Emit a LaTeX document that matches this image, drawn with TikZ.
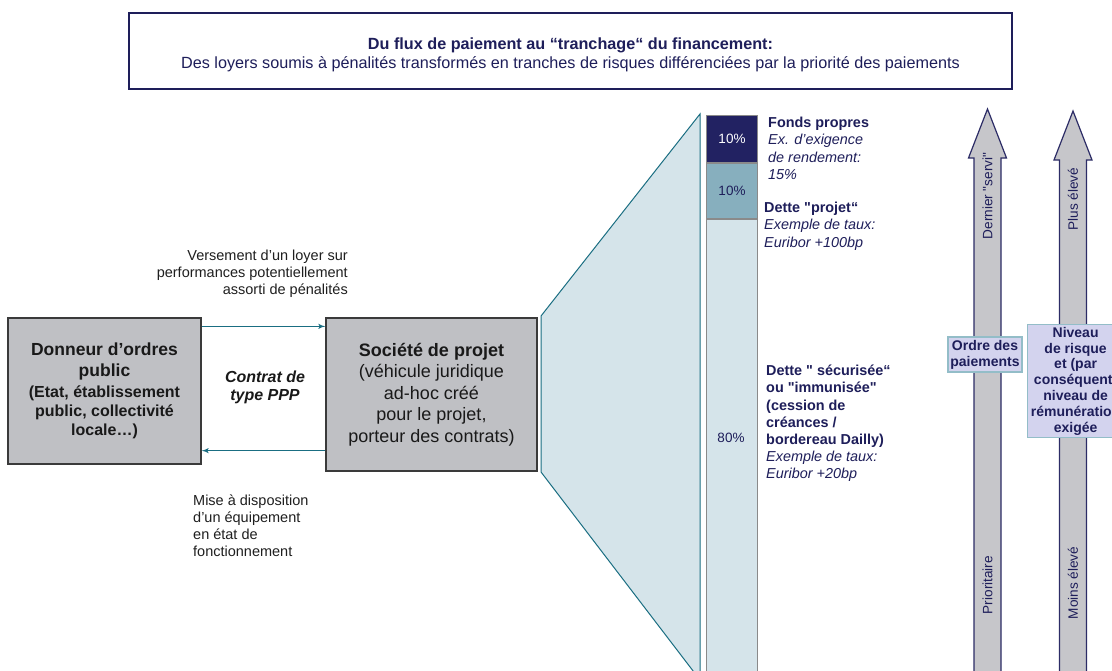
\documentclass[tikz,border=0pt]{standalone}
\usepackage{fontspec}
\setmainfont{Liberation Sans}[Ligatures=TeXOff]
\usetikzlibrary{arrows,positioning}
\definecolor{navy}{HTML}{1E1E5A}
\definecolor{flowteal}{HTML}{1A6E82}
\definecolor{lightblue}{HTML}{D5E4EA}
\definecolor{midteal}{HTML}{87AFBE}
\definecolor{darknavy}{HTML}{222262}
\definecolor{bargray}{HTML}{8A8A8A}
\definecolor{boxgray}{HTML}{BFC0C4}
\definecolor{boxedge}{HTML}{3A3A3A}
\definecolor{arrowgray}{HTML}{C6C6CA}
\definecolor{arrownavy}{HTML}{2C2C66}
\definecolor{lavender}{HTML}{D3D3EE}
\definecolor{legendedge}{HTML}{93BDC8}
\tikzset{every node/.append style={inner sep=0pt}}
\tikzset{
  gray box/.style={draw=boxedge, line width=1.3pt, fill=boxgray, align=center, text=black!90},
  flow/.style={draw=flowteal, line width=1.4pt, -latex'},
  note/.style={font=\fontsize{14.5}{17}\selectfont, text=black!88},
  tranche/.style={draw=bargray, line width=1pt, minimum width=51pt, font=\fontsize{13.5}{16}\selectfont},
  tranche text/.style={anchor=north west, align=left, text=navy, font=\fontsize{14.4}{17.2}\selectfont},
  big arrow/.style={draw=arrownavy, line width=1.2pt, fill=arrowgray},
  axis text/.style={rotate=90, text=navy, font=\fontsize{13.6}{16}\selectfont},
  legend box/.style={draw=legendedge, line width=1.2pt, fill=lavender, text=navy, align=center, font=\bfseries\fontsize{14}{15.8}\selectfont}
}

\begin{document}
\begin{tikzpicture}[x=1pt,y=-1pt]
  \path[use as bounding box, clip] (0,0) rectangle (1112,670);
  \fill[white] (0,0) rectangle (1112,670);

  % titre
  \node[draw=navy, line width=1.6pt, minimum width=883pt, minimum height=76pt] (titre) at (570.5,51) {};
  \node[align=center, text=navy, font=\fontsize{16.2}{19}\selectfont, yshift=-3.5pt] (titretxt) at (titre.center)
    {\textbf{Du flux de paiement au “tranchage“ du financement:}\\
     Des loyers soumis à pénalités transformés en tranches de risques différenciées par la priorité des paiements};

  % contrat PPP
  \node[gray box, minimum width=193pt, minimum height=146pt, font=\bfseries\fontsize{17.5}{21}\selectfont] (donneur) at (104.5,391)
    {Donneur d’ordres\\ public\\ {\fontsize{16}{19}\selectfont (Etat, établissement}\\[-2pt]
     {\fontsize{16}{19}\selectfont public, collectivité}\\[-2pt] {\fontsize{16}{19}\selectfont locale…)}};
  \node[gray box, minimum width=211pt, minimum height=153pt, font=\fontsize{18}{21.5}\selectfont] (societe) at (431.5,394.5)
    {\textbf{Société de projet}\\ (véhicule juridique\\ ad-hoc créé\\ pour le projet,\\ porteur des contrats)};
  \draw[flow] ([yshift=-9pt]donneur.north east) -- ([yshift=-9pt]societe.north west);
  \draw[flow] ([yshift=21pt]societe.south west) -- ([yshift=14pt]donneur.south east);
  \node[note, align=right, anchor=north east] (versement) at (348,250)
    {Versement d’un loyer sur\\ performances potentiellement\\ assorti de pénalités};
  \node[align=center, font=\bfseries\itshape\fontsize{16}{18}\selectfont, text=black!90] (contrat) at (265,387)
    {Contrat de\\ type PPP};
  \node[note, align=left, anchor=north west] (mise) at (193,495)
    {Mise à disposition\\ d’un équipement\\ en état de\\ fonctionnement};

  % tranchage
  \draw[draw=flowteal, line width=1pt, fill=lightblue] (541,316) -- (700,114) -- (700,680) -- (541,472) -- cycle;
  \node[tranche, fill=darknavy, minimum height=47pt, text=white, anchor=north west] (fonds) at (706,115) {10\%};
  \node[tranche, fill=midteal, minimum height=55pt, text=navy, below=0pt of fonds] (projet) {10\%};
  \node[tranche, fill=lightblue, minimum height=470pt, below=0pt of projet] (senior) {};
  \node[font=\fontsize{13.5}{16}\selectfont, text=navy] (pct) at (731,438) {80\%};
  \node[tranche text] (fondstxt) at (768,117)
    {\textbf{Fonds propres}\\ \textit{Ex. d’exigence}\\ \textit{de rendement:}\\ \textit{15\%}};
  \node[tranche text] (projettxt) at (764,202)
    {\textbf{Dette "projet“}\\ \textit{Exemple de taux:}\\ \textit{Euribor +100bp}};
  \node[tranche text] (seniortxt) at (766,365)
    {\textbf{Dette " sécurisée“}\\ \textbf{ou "immunisée"}\\ \textbf{(cession de}\\ \textbf{créances /}\\
     \textbf{bordereau Dailly)}\\ \textit{Exemple de taux:}\\ \textit{Euribor +20bp}};

  % ordre et risque
  \foreach \x/\tip in {987.5/109, 1073/111} {
    \draw[big arrow] ({\x-13.5},680) -- ({\x-13.5},{\tip+49}) -- ({\x-19},{\tip+49}) -- (\x,\tip)
      -- ({\x+19},{\tip+49}) -- ({\x+13.5},{\tip+49}) -- ({\x+13.5},680) -- cycle;
  }
  \node[axis text] (dernier) at (987.5,196) {Dernier "servi"};
  \node[axis text] (prioritaire) at (987.5,585) {Prioritaire};
  \node[axis text] (pluseleve) at (1073,199) {Plus élevé};
  \node[axis text] (moinseleve) at (1073,583) {Moins élevé};
  \node[legend box, minimum width=74pt, minimum height=35pt] (ordre) at (985,354.5) {Ordre des\\ paiements};
  \node[legend box, minimum width=96pt, minimum height=113pt, anchor=north west] (niveau) at (1027,324)
    {Niveau\\ de risque\\ et (par\\ conséquent)\\ niveau de\\ rémunération\\ exigée};
\end{tikzpicture}
\end{document}
